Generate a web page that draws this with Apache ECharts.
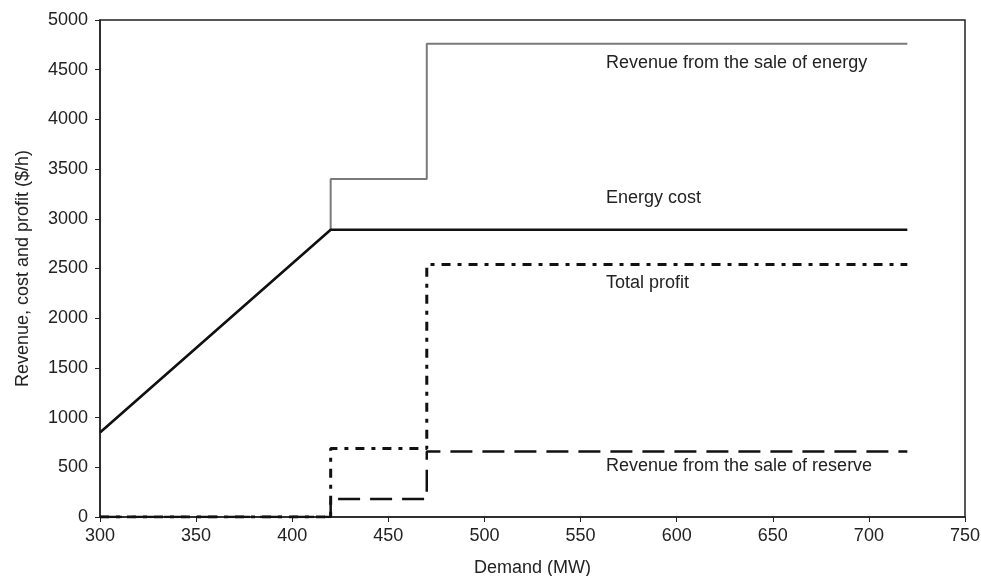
<!DOCTYPE html>
<html>
<head>
<meta charset="utf-8">
<script src="https://cdn.jsdelivr.net/npm/echarts@6/dist/echarts.min.js"></script>
<style>
  html, body {margin: 0; padding: 0; background: #fff;}
  #chart {width: 981px; height: 576px;}
</style>
</head>
<body>
<div id="chart"></div>
<script>
// demand (MW) break points and the values at each of them
const energyRevenueX = [300, 420, 420, 470, 470, 720];
const energyRevenueY = [850, 2890, 3400, 3400, 4760, 4760];
const energyCostX = [300, 420, 720];
const energyCostY = [850, 2890, 2890];
const totalProfitX = [300, 420, 420, 470, 470, 720];
const totalProfitY = [0, 0, 690, 690, 2540, 2540];
const reserveRevenueX = [300, 420, 420, 470, 470, 720];
const reserveRevenueY = [0, 0, 180, 180, 660, 660];
const labels = [
  'Revenue from the sale of energy',
  'Energy cost',
  'Total profit',
  'Revenue from the sale of reserve'
];

const pairs = (xs, ys) => xs.map((x, i) => [x, ys[i]]);
const font = 'Liberation Sans, Arial, sans-serif';

const myChart = echarts.init(document.getElementById('chart'));

const line = (name, xs, ys, color, width, type) => ({
  name,
  type: 'line',
  data: pairs(xs, ys),
  symbol: 'none',
  animation: false,
  lineStyle: {color, width, type}
});

// annotation text, placed beside each curve
const textAt = (text, x, y) => ({
  type: 'text',
  left: x,
  top: y,
  style: {text, fill: '#222', font: '18px ' + font}
});

myChart.setOption({
  backgroundColor: '#fff',
  textStyle: {fontFamily: font},
  grid: {
    left: 100,
    right: 16,
    top: 20,
    bottom: 59,
    outerBoundsMode: 'none',
    show: true,
    borderColor: '#222',
    borderWidth: 1.5
  },
  xAxis: {
    type: 'value',
    min: 300,
    max: 750,
    interval: 50,
    name: 'Demand (MW)',
    nameLocation: 'middle',
    nameGap: 42,
    nameTextStyle: {fontSize: 18, color: '#222'},
    axisLine: {lineStyle: {color: '#222', width: 1.5}},
    axisTick: {length: 5, lineStyle: {color: '#222'}},
    axisLabel: {fontSize: 18, color: '#222', margin: 10},
    splitLine: {show: false}
  },
  yAxis: {
    type: 'value',
    min: 0,
    max: 5000,
    interval: 500,
    name: 'Revenue, cost and profit ($/h)',
    nameLocation: 'middle',
    nameGap: 68,
    nameTextStyle: {fontSize: 18, color: '#222'},
    axisLine: {show: true, lineStyle: {color: '#222', width: 1.5}},
    axisTick: {show: true, length: 5, lineStyle: {color: '#222'}},
    axisLabel: {fontSize: 18, color: '#222', margin: 12, formatter: v => String(v)},
    splitLine: {show: false}
  },
  graphic: [
    textAt(labels[0], 606, 54),
    textAt(labels[1], 606, 189),
    textAt(labels[2], 606, 274),
    textAt(labels[3], 606, 457)
  ],
  series: [
    line(labels[0], energyRevenueX, energyRevenueY, '#7a7a7a', 2, 'solid'),
    line(labels[1], energyCostX, energyCostY, '#111', 2.5, 'solid'),
    line(labels[2], totalProfitX, totalProfitY, '#111', 3, [9, 7, 4, 7]),
    line(labels[3], reserveRevenueX, reserveRevenueY, '#111', 2.5, [22, 10])
  ]
});
</script>
</body>
</html>
